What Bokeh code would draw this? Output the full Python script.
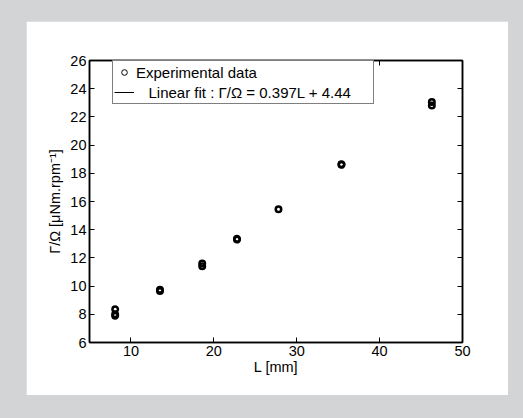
from bokeh.plotting import figure
from bokeh.models import (LinearAxis, FixedTicker, Range1d, Legend, LegendItem,
                          ColumnDataSource)
from bokeh.embed import file_html
from bokeh.resources import INLINE

# ---- data ----
L_mm = [8.1, 8.1, 8.1, 13.5, 13.5, 18.6, 18.6, 22.8, 22.8, 27.8, 35.4, 35.4, 46.3, 46.3]
ratio = [8.35, 8.0, 7.9, 9.75, 9.65, 11.6, 11.4, 13.35, 13.3, 15.45, 18.65, 18.6, 23.05, 22.8]
fit_slope = 0.397
fit_intercept = 4.44
x_ticks = [10, 20, 30, 40, 50]
y_ticks = [6, 8, 10, 12, 14, 16, 18, 20, 22, 24, 26]

FONT = "Liberation Sans"
FS = "14.5px"

p = figure(width=482, height=374, output_backend="svg", toolbar_location=None,
           x_range=Range1d(5, 50), y_range=Range1d(6, 26),
           min_border_left=63, min_border_right=46, min_border_top=39,
           min_border_bottom=53, margin=(21, 0, 0, 26),
           background_fill_color="white", border_fill_color="white")
p.grid.visible = False
p.outline_line_color = "black"
p.outline_line_width = 1.5

# main axes
for ax, ticks in ((p.xaxis[0], x_ticks), (p.yaxis[0], y_ticks)):
    ax.ticker = FixedTicker(ticks=ticks)
    ax.major_tick_in = 5
    ax.major_tick_out = 0
    ax.minor_tick_line_color = None
    ax.axis_line_color = "black"
    ax.axis_line_width = 1.5
    ax.major_tick_line_color = "black"
    ax.major_label_text_font = FONT
    ax.major_label_text_font_size = FS
    ax.major_label_text_color = "black"
    ax.axis_label_text_font = FONT
    ax.axis_label_text_font_size = FS
    ax.axis_label_text_font_style = "normal"
    ax.axis_label_text_color = "black"

p.xaxis[0].axis_label = "L [mm]"
p.xaxis[0].major_label_standoff = 3
p.xaxis[0].axis_label_standoff = 0
p.yaxis[0].axis_label = "Γ/Ω [μNm.rpm⁻¹]"
p.yaxis[0].major_label_standoff = 3
p.yaxis[0].axis_label_standoff = 4

# mirrored axes (top/right) with inward ticks, no labels
for loc, ticks in (("above", x_ticks), ("right", y_ticks)):
    ax = LinearAxis(ticker=FixedTicker(ticks=ticks), major_tick_in=5, major_tick_out=0,
                    minor_tick_line_color=None, major_label_text_font_size="0px",
                    axis_line_color="black", axis_line_width=1.5,
                    major_label_standoff=0)
    ax.major_label_text_alpha = 0
    p.add_layout(ax, loc)

# data
src = ColumnDataSource(dict(x=L_mm, y=ratio))
r_pts = p.scatter("x", "y", source=src, marker="circle", size=5.5, line_width=2.5,
                  line_color="black", fill_color=None)
# thinner copy used only as the legend sample (hidden in the plot area)
r_pts_legend = p.scatter("x", "y", source=src, marker="circle", size=5, line_width=1,
                         line_color="black", fill_color=None)
r_pts_legend.visible = False

# linear fit: not drawn in the plot area in the reference, shown only in the legend
fit_x = [min(L_mm), max(L_mm)]
fit_y = [fit_slope * v + fit_intercept for v in fit_x]
r_fit = p.line(x=fit_x, y=fit_y, line_color="black", line_width=1)
r_fit.visible = False

legend = Legend(items=[LegendItem(label="Experimental data", renderers=[r_pts_legend]),
                       LegendItem(label="\u00a0\u00a0\u00a0Linear fit : Γ/Ω = %.3fL + %.2f" % (fit_slope, fit_intercept),
                                  renderers=[r_fit])],
                location=(23, 238), padding=1, spacing=0, margin=0,
                glyph_width=20, glyph_height=14, label_height=20, label_standoff=2,
                label_width=236, click_policy="none",
                label_text_font=FONT, label_text_font_size="15px", label_text_color="black",
                border_line_color="black", border_line_width=1,
                background_fill_color="white", background_fill_alpha=1.0)
p.add_layout(legend, "center")

html = file_html(p, INLINE)
html = html.replace("</head>",
                    "<style>html, body { background-color: #d3d4d6 !important; }</style></head>", 1)
open("out.html", "w").write(html)
